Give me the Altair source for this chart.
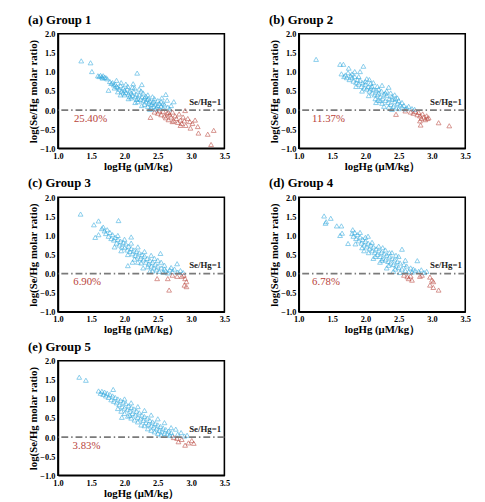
import altair as alt
import pandas as pd

# ---------------- data ----------------
g1_x = [1.35,1.49,1.51,1.60,1.62,1.64,1.66,1.68,1.70,1.72,1.67,1.74,1.76,1.78,1.80,1.82,1.84,1.86,1.88,1.85,1.90,1.92,1.94,1.96,1.98,2.00,2.02,2.04,2.06,2.08,2.10,2.12,2.13,2.14,2.16,2.18,2.19,2.20,2.22,2.24,2.26,2.26,2.28,2.30,2.32,2.34,2.36,2.38,2.40,2.42,2.44,2.46,2.48,2.50,2.52,2.55,2.58,2.60,2.62,2.65,2.68,2.74,2.70,1.95,2.05,2.15,2.25,2.35,2.45,2.55,2.00,2.10,2.20,2.30,2.40,2.35,2.28,2.18,2.08,1.98,1.90,2.42,2.50,2.58,2.64,2.32,2.22,2.12,2.02,1.88,2.38,2.46,2.56,1.94,2.16,2.26,2.44,2.52,2.36,2.06,
        2.39,2.45,2.50,2.55,2.58,2.60,2.62,2.64,2.66,2.68,2.70,2.72,2.74,2.76,2.78,2.80,2.82,2.84,2.86,2.88,2.90,2.91,2.92,2.95,2.98,2.99,3.02,3.06,3.10,3.11,3.25,3.34,3.30,2.52,2.66,2.72,2.84]
g1_y = [1.29,1.24,1.01,0.90,0.88,0.91,0.87,0.90,0.86,0.85,0.84,0.82,0.52,0.75,0.70,0.72,0.66,0.68,0.62,0.58,0.60,0.55,0.64,0.50,0.58,0.52,0.46,0.55,0.42,0.50,0.45,0.38,0.69,0.48,0.35,0.42,0.97,0.30,0.40,0.28,0.67,0.35,0.25,0.32,0.22,0.28,0.18,0.24,0.15,0.20,0.10,0.16,0.06,0.12,0.04,0.10,0.05,0.14,0.41,0.08,0.03,0.22,0.12,0.72,0.62,0.58,0.50,0.40,0.30,0.22,0.40,0.32,0.22,0.15,0.06,0.10,0.45,0.28,0.36,0.45,0.48,0.35,0.25,0.18,0.26,0.36,0.55,0.60,0.68,0.78,0.02,0.03,0.32,0.40,0.20,0.12,0.22,0.18,0.30,0.30,
        -0.19,-0.05,-0.08,-0.12,-0.03,-0.15,-0.20,-0.08,-0.25,-0.12,-0.18,-0.05,-0.28,-0.15,-0.22,-0.32,-0.10,-0.26,-0.35,-0.18,-0.28,-0.01,-0.40,-0.22,-0.30,-0.47,-0.35,-0.26,-0.43,-0.60,-0.63,-0.53,-0.90,-0.02,-0.06,-0.30,-0.40]

g2_x = [1.26,1.62,1.67,1.64,1.75,1.97,1.84,1.92,1.68,1.70,1.72,1.74,1.76,1.78,1.80,1.82,1.84,1.86,1.88,1.90,1.92,1.94,1.96,1.98,2.00,2.02,2.02,2.04,2.06,2.08,2.08,2.10,2.12,2.14,2.16,2.16,2.18,2.19,2.20,2.22,2.24,2.26,2.28,2.30,2.32,2.34,2.36,2.38,2.40,2.42,2.44,2.46,2.48,2.50,2.52,2.55,2.58,2.60,2.62,2.65,2.70,2.74,1.80,1.90,2.00,2.10,2.20,2.30,2.40,2.50,2.35,2.25,2.12,1.95,2.05,2.15,2.25,2.35,2.45,2.55,2.28,2.40,2.18,2.32,2.44,2.06,1.86,2.38,2.48,2.22,
        2.46,2.60,2.68,2.72,2.75,2.78,2.80,2.82,2.83,2.84,2.86,2.88,2.90,2.92,2.93,2.95,3.10,3.26,2.82]
g2_y = [1.33,1.20,1.20,0.95,1.10,1.15,1.01,1.01,0.88,0.92,0.85,0.98,0.80,0.90,0.85,0.76,0.88,0.72,0.80,0.68,0.78,0.62,0.72,0.58,0.68,0.82,0.55,0.62,0.50,0.70,0.58,0.45,0.55,0.40,0.20,0.52,0.62,0.26,0.45,0.35,0.50,0.30,0.42,0.25,0.38,0.20,0.30,0.15,0.28,0.10,0.22,0.06,0.18,0.04,0.14,0.08,0.12,0.03,0.06,0.10,0.04,0.02,0.95,0.88,0.75,0.62,0.55,0.45,0.35,0.25,0.60,0.65,0.72,0.50,0.38,0.30,0.18,0.08,0.30,0.20,0.10,0.02,0.40,0.50,0.40,0.80,0.62,0.45,0.32,0.25,
        -0.11,-0.02,-0.05,-0.08,-0.03,-0.12,-0.06,-0.15,-0.39,-0.22,-0.10,-0.18,-0.25,-0.15,-0.22,-0.20,-0.33,-0.41,-0.28]

g3_x = [1.34,1.61,1.54,1.91,2.10,1.56,1.61,1.66,1.68,1.70,1.72,1.74,1.76,1.78,1.80,1.82,1.84,1.86,1.88,1.90,1.92,1.94,1.96,1.98,2.00,2.02,2.04,2.05,2.06,2.08,2.10,2.12,2.14,2.16,2.18,2.20,2.20,2.22,2.24,2.26,2.28,2.30,2.32,2.34,2.36,2.38,2.40,2.42,2.42,2.44,2.46,2.48,2.50,2.52,2.54,2.55,2.58,2.60,2.62,2.65,2.68,2.72,2.75,2.79,2.80,2.84,2.88,1.85,1.95,2.05,2.15,2.25,2.35,2.45,2.55,2.00,2.10,2.20,2.30,2.40,2.50,1.90,2.12,2.28,2.38,2.60,2.70,
        2.49,2.65,2.67,2.79,2.86,2.89,2.91,2.93,2.90,2.93,2.72]
g3_y = [1.56,1.38,1.28,1.39,0.96,0.95,1.02,1.18,1.22,1.12,1.05,1.15,0.98,1.08,0.92,1.02,0.88,0.95,0.80,0.90,0.75,0.85,0.70,0.82,0.68,0.78,0.62,0.21,0.72,0.58,0.66,0.52,0.62,0.48,0.58,0.30,0.44,0.55,0.40,0.50,0.36,0.46,0.30,0.40,0.25,0.35,0.20,0.07,0.30,0.15,0.25,0.10,0.20,0.06,0.53,0.15,0.04,0.12,0.08,0.02,0.10,0.05,0.12,0.26,0.04,0.08,0.03,0.70,0.60,0.50,0.38,0.28,0.18,0.40,0.30,0.90,0.80,0.70,0.58,0.48,0.35,1.00,0.30,0.15,0.06,0.22,0.16,
        -0.13,-0.13,-0.43,-0.07,-0.07,-0.04,-0.13,-0.21,-0.30,-0.34,-0.04]

g4_x = [1.38,1.48,1.41,1.40,1.57,1.64,1.65,1.62,1.74,1.81,1.80,1.82,1.84,1.86,1.88,1.90,1.92,1.94,1.96,1.98,2.00,2.02,2.04,2.04,2.06,2.08,2.10,2.12,2.14,2.16,2.18,2.20,2.22,2.24,2.26,2.28,2.30,2.32,2.34,2.36,2.38,2.40,2.42,2.44,2.46,2.48,2.50,2.52,2.55,2.55,2.58,2.60,2.62,2.65,2.68,2.70,2.72,2.75,2.78,2.80,2.84,2.88,2.92,1.85,1.95,2.05,2.15,2.25,2.35,2.45,2.40,2.30,2.20,2.10,1.92,2.00,2.50,2.60,2.32,2.42,2.52,2.12,2.22,1.98,2.36,2.46,2.26,
        2.58,2.65,2.70,2.63,2.82,2.85,2.97,3.00,2.97,3.02,3.10,3.02,2.68]
g4_y = [1.51,1.45,1.36,1.32,1.25,1.25,1.06,1.00,0.79,1.15,1.05,0.98,1.08,0.92,1.02,0.86,0.96,0.80,0.90,0.75,0.85,0.70,0.98,0.80,0.65,0.75,0.60,0.70,0.55,0.65,0.50,0.60,0.45,0.56,0.40,0.52,0.36,0.48,0.32,0.44,0.28,0.40,0.24,0.36,0.20,0.32,0.16,0.28,0.64,0.12,0.24,0.08,0.20,0.05,0.15,0.04,0.12,0.08,0.34,0.06,0.10,0.03,0.06,0.78,0.68,0.55,0.45,0.35,0.22,0.12,0.55,0.62,0.72,0.82,1.08,0.95,0.45,0.35,0.15,0.06,0.03,0.40,0.30,0.60,0.55,0.48,0.68,
        -0.04,-0.13,-0.17,-0.08,-0.07,-0.04,-0.09,-0.17,-0.30,-0.36,-0.43,-0.21,-0.06]

g5_x = [1.32,1.42,1.61,1.64,1.66,1.68,1.70,1.72,1.74,1.76,1.78,1.80,1.82,1.83,1.84,1.86,1.88,1.90,1.92,1.94,1.96,1.96,1.98,2.00,2.02,2.04,2.06,2.08,2.08,2.10,2.12,2.14,2.16,2.18,2.20,2.22,2.24,2.26,2.28,2.30,2.32,2.34,2.36,2.38,2.40,2.42,2.44,2.46,2.48,2.50,2.52,2.54,2.56,2.58,2.60,2.62,2.64,2.66,2.68,2.70,2.72,2.77,2.80,2.85,2.94,2.90,1.90,2.00,2.10,2.20,2.30,2.40,2.50,2.00,2.10,2.20,2.30,2.40,2.50,2.60,2.35,2.45,2.55,2.25,2.15,2.05,1.95,2.70,
        2.74,2.79,2.81,2.86,2.91,2.96,3.01,3.04]
g5_y = [1.57,1.49,1.21,1.15,1.20,1.12,1.18,1.08,1.15,1.04,1.12,0.98,1.08,1.25,0.94,1.04,0.90,1.00,0.85,0.96,0.52,0.80,0.92,0.76,0.88,0.72,0.82,0.57,0.68,0.78,0.62,0.74,0.58,0.68,0.52,0.64,0.48,0.58,0.44,0.54,0.38,0.50,0.34,0.44,0.30,0.40,0.26,0.36,0.22,0.32,0.18,0.28,0.14,0.24,0.10,0.20,0.08,0.16,0.05,0.12,0.04,0.21,0.08,0.12,0.05,0.03,0.75,0.62,0.50,0.40,0.30,0.18,0.10,1.00,0.90,0.80,0.70,0.58,0.48,0.38,0.22,0.14,0.06,0.32,0.45,0.55,0.68,0.25,
        -0.01,-0.03,-0.12,-0.06,-0.21,-0.15,-0.09,-0.16]

titles = ["(a) Group 1", "(b) Group 2", "(c) Group 3", "(d) Group 4", "(e) Group 5"]
percents = ["25.40%", "11.37%", "6.90%", "6.78%", "3.83%"]
pct_x = [1.24, 1.20, 1.23, 1.20, 1.22]
x_ticks = [1.0, 1.5, 2.0, 2.5, 3.0, 3.5]
y_ticks = [-1.0, -0.5, 0.0, 0.5, 1.0, 1.5, 2.0]
groups = [(g1_x, g1_y), (g2_x, g2_y), (g3_x, g3_y), (g4_x, g4_y), (g5_x, g5_y)]

BLUE = "#2fa8de"
RED = "#b8433a"
FONT = "Liberation Serif"

XSC = alt.Scale(domain=[1.0, 3.5], nice=False)
YSC = alt.Scale(domain=[-1.0, 2.0], nice=False)
XAX = alt.Axis(values=x_ticks, format=".1f", title="logHg (μM/kg）")
YAX = alt.Axis(values=y_ticks, format=".1f", title="log(Se/Hg molar ratio)")


def panel(i):
    xs, ys = groups[i]
    df = pd.DataFrame({"x": xs, "y": ys})
    df["side"] = ["below" if v < 0 else "above" for v in ys]
    pts = alt.Chart(df).mark_point(shape="triangle-up", filled=False, size=24,
                                   strokeWidth=0.8).encode(
        x=alt.X("x:Q", scale=XSC, axis=XAX),
        y=alt.Y("y:Q", scale=YSC, axis=YAX),
        color=alt.Color("side:N", scale=alt.Scale(domain=["above", "below"],
                                                   range=[BLUE, RED]), legend=None),
    )
    line = alt.Chart().mark_rule(color="#7a7a7a", strokeWidth=1.8,
                                 strokeDash=[7, 3, 1.5, 3]).encode(
        y=alt.YDatum(0.0, scale=YSC, axis=YAX))
    lab = alt.Chart().mark_text(text="Se/Hg=1", align="right", baseline="middle",
                                font=FONT, fontWeight="bold", fontSize=9,
                                color="#222222").encode(
        x=alt.XDatum(3.45, scale=XSC, axis=XAX),
        y=alt.YDatum(0.22, scale=YSC, axis=YAX))
    pct = alt.Chart().mark_text(text=percents[i], align="left", baseline="middle",
                                font=FONT, fontSize=11, color=RED).encode(
        x=alt.XDatum(pct_x[i], scale=XSC, axis=XAX),
        y=alt.YDatum(-0.23, scale=YSC, axis=YAX))
    return alt.layer(pts, line, lab, pct).properties(
        width=170, height=117,
        title=alt.TitleParams(titles[i], anchor="start", fontSize=13,
                              font=FONT, fontWeight="bold", offset=3, color="black"),
    )


row1 = alt.hconcat(panel(0), panel(1), spacing=37)
row2 = alt.hconcat(panel(2), panel(3), spacing=37)
row3 = alt.hconcat(panel(4), spacing=37)

chart = alt.vconcat(row1, row2, row3, spacing=4).properties(
    padding={"left": 19, "top": 0, "right": 5, "bottom": 0},
    background="white",
).configure_view(
    stroke="black", strokeWidth=1.6
).configure_axis(
    grid=False, ticks=False, domainColor="black", domainWidth=1.6,
    labelOverlap=False, labelFlush=False,
    labelFont=FONT, labelFontWeight="bold", labelFontSize=8.5, labelColor="black",
    labelPadding=3,
    titleFont=FONT, titleFontWeight="bold", titleFontSize=11, titleColor="black",
    titlePadding=1,
)

chart.save("out.html", embed_options={"renderer": "svg", "actions": False})
